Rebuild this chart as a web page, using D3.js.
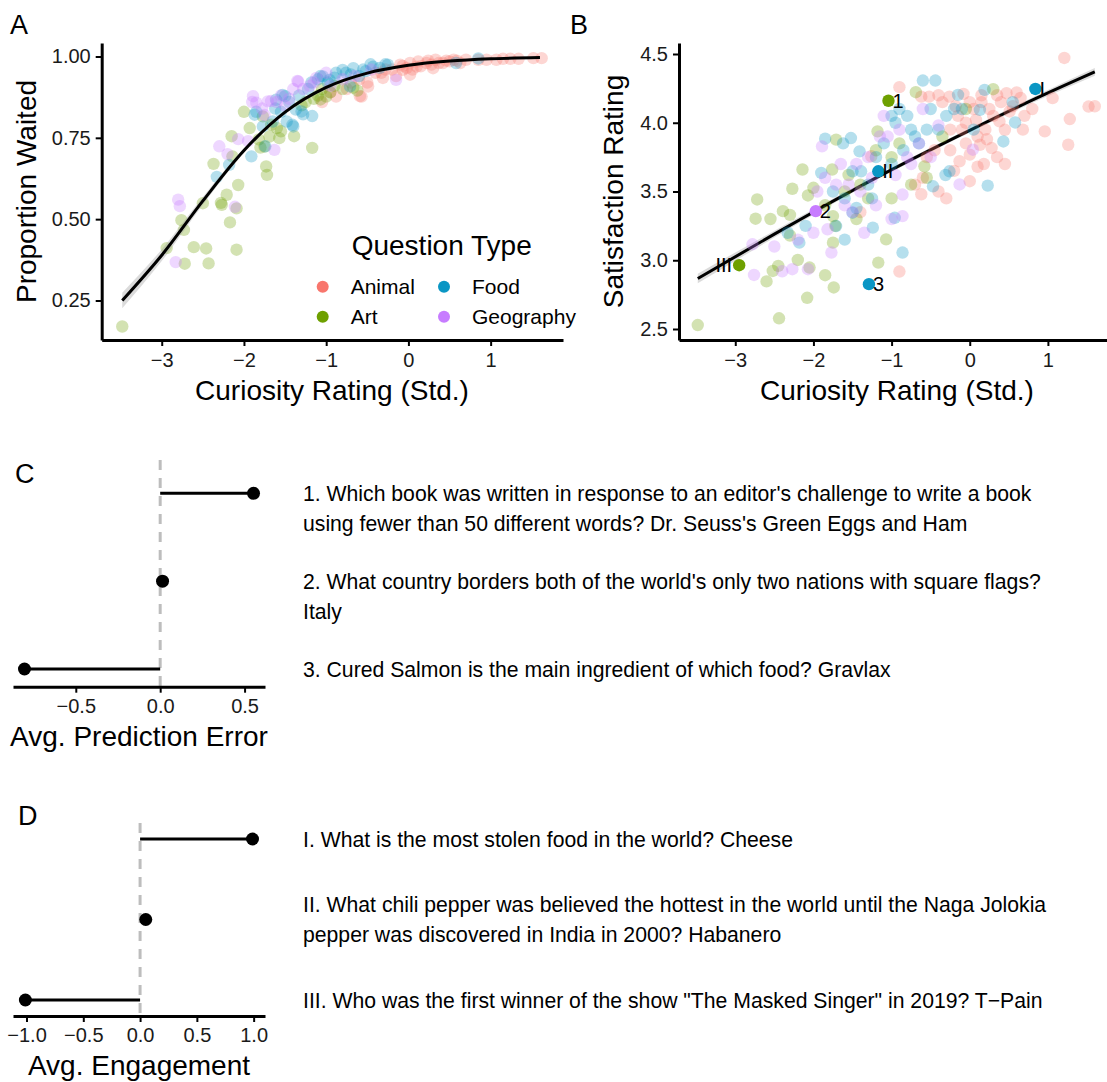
<!DOCTYPE html>
<html lang="en">
<head>
<meta charset="UTF-8">
<title>Curiosity</title>
<style>
    body { margin: 0; background: #fff; }
    text { font-family: "Liberation Sans", Arial, sans-serif; }
</style>
</head>
<body>
<script src="https://d3js.org/d3.v7.min.js"></script>
<script>
    // question types
    let types = ['Animal', 'Art', 'Food', 'Geography'];
    let typeColors = ['#F8766D', '#6EA000', '#0A96C4', '#C77CFF'];

    // panel A: [curiosity (std), proportion waited]
    let animalA = [[-0.88,0.877],[-0.59,0.878],[-0.57,0.877],[-0.49,0.908],[-0.5,0.92],[-0.33,0.95],[-0.31,0.934],[-0.2,0.96],
        [-0.15,0.94],[-0.07,0.959],[-0.07,0.971],[0.02,0.944],[0.02,0.98],[0.05,0.96],[0.1,0.969],[0.15,0.97],[0.22,0.98],
        [0.24,0.987],[0.3,0.964],[0.33,0.99],[0.37,0.98],[0.42,0.98],[0.46,0.987],[0.5,0.985],[0.59,0.987],[0.63,0.98],
        [0.7,0.99],[0.95,0.99],[1.07,0.99],[1.15,0.993],[1.24,0.993],[1.34,0.993],[1.52,0.995],[1.62,0.995],[-1.05,0.86],
        [-0.75,0.9],[-0.4,0.95],[-0.1,0.975],[0.12,0.985],[-0.95,0.89],[-0.7,0.92],[-0.6,0.93],[-0.28,0.96],[-0.02,0.965],
        [0.28,0.975],[0.55,0.99],[0.85,0.99]];
    let artA = [[-3.48,0.17],[-2.94,0.411],[-2.72,0.363],[-2.61,0.414],[-2.46,0.41],[-2.43,0.364],[-2.09,0.406],[-2.76,0.497],
        [-2.73,0.467],[-2.5,0.549],[-2.28,0.55],[-2.27,0.544],[-2.21,0.575],[-2.09,0.533],[-2.17,0.49],[-2.07,0.605],
        [-2.37,0.67],[-2.15,0.755],[-2.14,0.693],[-2.0,0.83],[-1.93,0.78],[-1.73,0.662],[-1.72,0.636],[-1.75,0.723],
        [-1.69,0.754],[-1.57,0.749],[-1.77,0.816],[-1.67,0.79],[-1.17,0.719],[-1.39,0.755],[-1.07,0.868],[-1.0,0.877],
        [-1.1,0.88],[-0.67,0.904],[-0.62,0.895],[-1.6,0.78],[-1.82,0.745],[-1.25,0.86],[-1.05,0.9],[-0.9,0.91],
        [-1.3,0.85],[-1.15,0.87],[-0.95,0.89],[-1.55,0.77],[-1.8,0.72],[-0.8,0.9]];
    let foodA = [[-2.33,0.63],[-2.18,0.667],[-1.91,0.693],[-1.87,0.821],[-1.61,0.867],[-1.53,0.882],[-1.77,0.785],[-1.74,0.724],
        [-1.41,0.79],[-1.48,0.8],[-1.37,0.837],[-1.28,0.822],[-1.17,0.817],[-1.3,0.831],[-1.4,0.785],[-1.07,0.94],
        [-1.04,0.939],[-0.96,0.928],[-0.98,0.92],[-0.71,0.908],[-0.67,0.964],[-0.8,0.959],[-0.76,0.95],[-0.46,0.976],
        [-0.43,0.969],[-0.28,0.976],[-0.25,0.975],[0.58,0.98],[0.85,0.994],[-1.1,0.93],[-0.88,0.95],[-0.55,0.96],
        [-1.5,0.878],[-1.22,0.9],[-0.35,0.965],[-1.65,0.8],[-0.6,0.94],[-1.55,0.83],[-1.85,0.83],[-1.45,0.86],[-1.33,0.88],
        [-1.18,0.92],[-0.9,0.935],[-0.7,0.945],[-0.52,0.955],[-1.62,0.84]];
    let geoA = [[-2.83,0.368],[-2.8,0.56],[-2.78,0.54],[-2.11,0.538],[-2.3,0.724],[-2.07,0.746],[-1.89,0.878],[-1.85,0.858],
        [-1.71,0.862],[-1.67,0.863],[-1.63,0.713],[-1.5,0.848],[-1.35,0.925],[-1.34,0.923],[-1.12,0.934],[-1.4,0.9],
        [-1.55,0.88],[-0.15,0.928],[-1.95,0.74],[-0.95,0.91],[-1.2,0.91],[-2.2,0.7],[-0.8,0.93],[-1.0,0.95],[-0.45,0.96],
        [-1.78,0.84],[-1.6,0.86],[-1.45,0.87],[-1.28,0.9],[-1.15,0.92],[-1.75,0.82],[-1.9,0.86],[-0.65,0.94]];

    // logistic fit
    let fitAx = [-3.48, -3, -2.5, -2, -1.5, -1, -0.5, 0, 0.5, 1, 1.6];
    let fitAy = [0.25, 0.389, 0.556, 0.711, 0.829, 0.905, 0.949, 0.973, 0.986, 0.993, 0.997];
    let fitAse = [0.024, 0.018, 0.012, 0.008, 0.006, 0.005, 0.004, 0.003, 0.002, 0.002, 0.002];

    // panel B: [curiosity (std), satisfaction rating]
    let animalB = [[1.21,4.471],[-0.9,4.259],[-0.62,4.19],[-0.52,4.19],[-0.26,4.19],[-0.08,4.21],[0.47,4.215],[0.6,4.22],
        [0.51,4.082],[0.38,4.01],[0.45,3.949],[1.06,4.179],[0.96,3.937],[1.28,4.027],[1.26,3.84],[1.52,4.118],[1.6,4.12],
        [0.28,3.816],[0.13,3.84],[0.0,3.768],[-0.13,3.72],[0.0,3.575],[-0.9,2.918],[-1.26,3.756],[-0.25,3.95],[-0.15,4.05],
        [-0.05,4.0],[0.05,4.1],[0.15,4.15],[0.25,4.1],[0.35,4.2],[0.2,3.95],[0.1,3.9],[-0.35,4.15],[-0.2,3.65],[-0.4,3.5],
        [-0.3,3.45],[-0.55,3.75],[-0.45,3.8],[0.8,4.1],[0.7,4.05],[-0.7,3.55],[0.0,4.15],[-0.1,3.95],[0.3,4.05],[0.55,4.12],
        [-0.18,4.12],[0.08,4.02],[-0.62,3.48],[0.18,3.7],[-1.4,3.35],[0.4,4.15],[0.65,4.18],[-0.05,3.85],[0.22,3.88],
        [0.35,3.75],[-0.25,3.8],[0.1,3.68],[0.45,3.7],[0.15,4.2],[-0.4,4.2],[0.68,3.95],[-0.6,3.6]];
    let artB = [[-3.48,2.529],[-2.44,2.578],[-2.08,2.727],[-1.74,2.802],[-1.85,2.891],[-1.17,2.983],[-2.72,3.442],
        [-2.74,3.302],[-2.27,3.52],[-2.14,3.66],[-2.07,3.471],[-2.0,3.527],[-2.39,3.357],[-2.3,3.33],[-2.2,3.002],
        [-2.05,2.947],[-2.45,2.959],[-2.52,2.922],[-2.6,2.846],[-1.71,3.877],[-1.76,3.66],[-1.75,3.321],[-1.75,3.128],
        [-1.07,3.152],[-1.18,3.937],[-0.69,4.222],[0.3,4.244],[-0.58,3.683],[-0.55,3.6],[-1.6,3.5],[-1.3,3.45],[-0.9,3.85],
        [-0.05,4.1],[-1.72,3.25],[-1.4,3.55],[-2.3,3.18],[-1.55,3.62],[-0.35,3.9],[-1.0,3.75],[-1.45,3.3],[-1.85,3.4],
        [-2.55,3.3],[-1.2,3.8],[-0.75,3.55],[-1.0,3.45]];
    let foodB = [[-0.6,4.307],[-0.44,4.307],[-0.15,4.203],[0.13,4.094],[0.19,4.239],[0.58,4.002],[0.43,3.864],[0.23,3.543],
        [-0.26,3.647],[-0.31,3.62],[-0.47,3.538],[-0.96,3.309],[-0.86,3.056],[-1.24,3.237],[-1.85,3.884],[-1.62,3.85],
        [-1.52,3.889],[-1.41,3.792],[-1.9,3.635],[-1.5,3.647],[-1.39,3.647],[-1.71,3.249],[-1.5,3.346],[-1.45,3.38],
        [-2.33,3.2],[-2.18,3.128],[-1.0,4.05],[-0.95,4.0],[-0.75,3.95],[-0.65,3.85],[-0.5,4.1],[-0.3,4.05],[-0.1,4.1],
        [-1.2,3.75],[-0.85,3.8],[-0.4,3.95],[0.55,4.15],[-1.0,3.7],[-1.3,3.55],[-0.7,3.9],[-1.1,3.85],[-1.6,3.45],
        [-0.2,4.1],[-0.9,4.1],[-1.75,3.5],[-1.25,3.45],[-0.8,4.05],[-0.55,3.95],[0.05,3.95],[-2.1,3.25],[-1.6,3.15]];
    let geoB = [[-2.27,2.935],[-2.07,2.935],[-2.76,2.893],[-2.78,3.116],[-2.2,3.15],[-1.89,3.828],[-1.71,3.55],[-1.55,3.55],
        [-1.82,3.225],[-1.77,3.056],[-1.35,3.2],[-1.6,3.4],[-1.45,3.7],[-1.3,3.75],[-1.1,4.05],[-1.05,3.9],[-0.9,3.95],
        [-0.8,3.75],[-0.86,3.478],[-0.86,3.321],[0.04,3.804],[-0.13,3.551],[-0.4,3.98],[-0.6,4.1],[-1.95,3.5],[-1.5,3.35],
        [-2.5,3.1],[-1.25,3.6],[-0.95,3.62],[-2.0,3.2],[-1.15,3.9],[-0.75,3.7],[-1.65,3.7],[-1.4,3.5],[-1.2,3.4],
        [-1.85,3.6],[-0.5,3.75],[-2.4,2.92],[-1.0,3.3],[-0.65,3.85]];

    // smooth fit
    let fitBx = [-3.48, -2.5, -1.97, -1.17, 0, 0.84, 1.6];
    let fitBy = [2.867, 3.19, 3.36, 3.608, 3.945, 4.175, 4.37];
    let fitBse = [0.035, 0.025, 0.02, 0.016, 0.015, 0.02, 0.028];

    // labelled questions in panel B
    let hlNames = ['1', '2', '3', 'I', 'II', 'III'];
    let hlX = [-1.04, -1.97, -1.29, 0.84, -1.17, -2.95];
    let hlY = [4.16, 3.357, 2.826, 4.246, 3.647, 2.964];
    let hlType = ['Art', 'Geography', 'Food', 'Food', 'Food', 'Art'];

    // panel C / D
    let predError = [0.553, 0.014, -0.804];
    let engagement = [0.99, 0.05, -1.01];
    let cQuestions = [
        ["1. Which book was written in response to an editor's challenge to write a book",
         "using fewer than 50 different words? Dr. Seuss's Green Eggs and Ham"],
        ["2. What country borders both of the world's only two nations with square flags?", "Italy"],
        ["3. Cured Salmon is the main ingredient of which food? Gravlax"]
    ];
    let dQuestions = [
        ["I. What is the most stolen food in the world? Cheese"],
        ["II. What chili pepper was believed the hottest in the world until the Naga Jolokia",
         "pepper was discovered in India in 2000? Habanero"],
        ["III. Who was the first winner of the show \"The Masked Singer\" in 2019? T\u2212Pain"]
    ];

    let color = d3.scaleOrdinal().domain(types).range(typeColors);

    let svg = d3.select('body').append('svg')
        .attr('width', 1107).attr('height', 1082);

    let styleAxis = g => {
        g.attr('font-size', 20);
        g.select('.domain').attr('stroke-width', 3).attr('stroke', '#000');
        g.selectAll('.tick line').attr('stroke-width', 2).attr('stroke', '#000');
        g.selectAll('.tick text').attr('fill', '#1a1a1a');
    };

    let panelLetter = (txt, x, y) => svg.append('text').attr('x', x).attr('y', y)
        .attr('font-size', 27).attr('fill', '#000').text(txt);

    let scatter = (g, sets, x, y) => {
        sets.forEach((pts, i) => {
            g.selectAll(null).data(pts).enter().append('circle')
                .attr('cx', d => x(d[0])).attr('cy', d => y(d[1]))
                .attr('r', 6.2)
                .attr('fill', color(types[i]))
                .attr('fill-opacity', 0.3);
        });
    };

    let fitLayer = (g, xs, ys, se, x, y) => {
        let rows = xs.map((v, i) => ({x: v, y: ys[i], se: se[i]}));
        g.append('path').datum(rows)
            .attr('fill', '#999').attr('fill-opacity', 0.35)
            .attr('d', d3.area().curve(d3.curveMonotoneX)
                .x(d => x(d.x)).y0(d => y(d.y - d.se)).y1(d => y(d.y + d.se)));
        g.append('path').datum(rows)
            .attr('fill', 'none').attr('stroke', '#000').attr('stroke-width', 3)
            .attr('d', d3.line().curve(d3.curveMonotoneX).x(d => x(d.x)).y(d => y(d.y)));
    };

    // ---------- Panel A ----------
    let xA = d3.scaleLinear().domain([-3.73, 1.88]).range([101.7, 563]);
    let yA = d3.scaleLinear().domain([0.1285, 1.0415]).range([340, 43]);
    let gA = svg.append('g');
    scatter(gA, [animalA, artA, foodA, geoA], xA, yA);
    fitLayer(gA, fitAx, fitAy, fitAse, xA, yA);
    gA.append('g').attr('transform', 'translate(0,340)')
        .call(d3.axisBottom(xA).tickValues([-3, -2, -1, 0, 1]).tickFormat(d3.format('d'))
            .tickSize(6).tickSizeOuter(0).tickPadding(7))
        .call(styleAxis);
    gA.append('g').attr('transform', 'translate(101.7,0)')
        .call(d3.axisLeft(yA).tickValues([0.25, 0.5, 0.75, 1]).tickFormat(d3.format('.2f'))
            .tickSize(6).tickSizeOuter(0).tickPadding(5))
        .call(styleAxis);
    svg.append('text').attr('x', 332).attr('y', 400).attr('text-anchor', 'middle')
        .attr('font-size', 28).text('Curiosity Rating (Std.)');
    svg.append('text').attr('transform', 'translate(36,191.5) rotate(-90)').attr('text-anchor', 'middle')
        .attr('font-size', 28).text('Proportion Waited');

    // legend
    svg.append('text').attr('x', 351.7).attr('y', 255).attr('font-size', 28).text('Question Type');
    let legX = [322.7, 322.7, 444, 444];
    let legY = [286.7, 316.7, 286.7, 316.7];
    types.forEach((t, i) => {
        svg.append('circle').attr('cx', legX[i]).attr('cy', legY[i]).attr('r', 6).attr('fill', color(t));
        svg.append('text').attr('x', legX[i] + 28).attr('y', legY[i] + 7.5)
            .attr('font-size', 21).text(t);
    });

    // ---------- Panel B ----------
    let xB = d3.scaleLinear().domain([-3.72, 1.87]).range([679, 1115.9]);
    let yB = d3.scaleLinear().domain([2.42, 4.58]).range([340, 43]);
    let gB = svg.append('g');
    fitLayer(gB, fitBx, fitBy, fitBse, xB, yB);
    scatter(gB, [animalB, artB, foodB, geoB], xB, yB);
    hlNames.forEach((n, i) => {
        gB.append('circle').attr('cx', xB(hlX[i])).attr('cy', yB(hlY[i])).attr('r', 6.2)
            .attr('fill', color(hlType[i]));
        let left = n === 'III';
        gB.append('text')
            .attr('x', xB(hlX[i]) + (left ? -7 : 4))
            .attr('y', yB(hlY[i]) + 7)
            .attr('text-anchor', left ? 'end' : 'start')
            .attr('font-size', 20).text(n);
    });
    gB.append('g').attr('transform', 'translate(0,340)')
        .call(d3.axisBottom(xB).tickValues([-3, -2, -1, 0, 1]).tickFormat(d3.format('d'))
            .tickSize(6).tickSizeOuter(0).tickPadding(7))
        .call(styleAxis);
    gB.append('g').attr('transform', 'translate(679,0)')
        .call(d3.axisLeft(yB).tickValues([2.5, 3, 3.5, 4, 4.5]).tickFormat(d3.format('.1f'))
            .tickSize(6).tickSizeOuter(0).tickPadding(5))
        .call(styleAxis);
    svg.append('text').attr('x', 897).attr('y', 400).attr('text-anchor', 'middle')
        .attr('font-size', 28).text('Curiosity Rating (Std.)');
    svg.append('text').attr('transform', 'translate(623,191.5) rotate(-90)').attr('text-anchor', 'middle')
        .attr('font-size', 28).text('Satisfaction Rating');

    // ---------- lollipop panels ----------
    let lollipop = (vals, questions, dom, rows, top, axisY, title, ticks, centered) => {
        let x = d3.scaleLinear().domain(dom).range([13, 265]);
        let y = d3.scalePoint().domain([0, 1, 2]).range(rows);
        let g = svg.append('g');
        g.append('line').attr('x1', x(0)).attr('x2', x(0)).attr('y1', top).attr('y2', axisY)
            .attr('stroke', '#bdbdbd').attr('stroke-width', 3).attr('stroke-dasharray', '10,8');
        g.selectAll(null).data(vals).enter().append('line')
            .attr('x1', x(0)).attr('x2', d => x(d))
            .attr('y1', (d, i) => y(i)).attr('y2', (d, i) => y(i))
            .attr('stroke', '#000').attr('stroke-width', 3);
        g.selectAll(null).data(vals).enter().append('circle')
            .attr('cx', d => x(d)).attr('cy', (d, i) => y(i)).attr('r', 6.5).attr('fill', '#000');
        g.append('g').attr('transform', 'translate(0,' + axisY + ')')
            .call(d3.axisBottom(x).tickValues(ticks).tickFormat(d3.format('.1f'))
                .tickSize(6).tickSizeOuter(0).tickPadding(6))
            .call(styleAxis);
        svg.append('text').attr('x', 139).attr('y', axisY + 59).attr('text-anchor', 'middle')
            .attr('font-size', 28).text(title);
        questions.forEach((lines, i) => {
            let start = centered ? y(i) - (lines.length - 1) * 15 : y(i);
            lines.forEach((ln, j) => {
                svg.append('text').attr('x', 303).attr('y', start + j * 30 + 7.5)
                    .attr('font-size', 21.2).text(ln);
            });
        });
    };

    lollipop(predError, cQuestions, [-0.872, 0.621], [493.3, 669], 460, 686.7,
        'Avg. Prediction Error', [-0.5, 0, 0.5], false);
    lollipop(engagement, dQuestions, [-1.119, 1.1], [839, 1000], 823, 1016,
        'Avg. Engagement', [-1, -0.5, 0, 0.5, 1], true);

    panelLetter('A', 10, 34);
    panelLetter('B', 570, 34);
    panelLetter('C', 15, 483);
    panelLetter('D', 18, 825);
</script>
</body>
</html>
